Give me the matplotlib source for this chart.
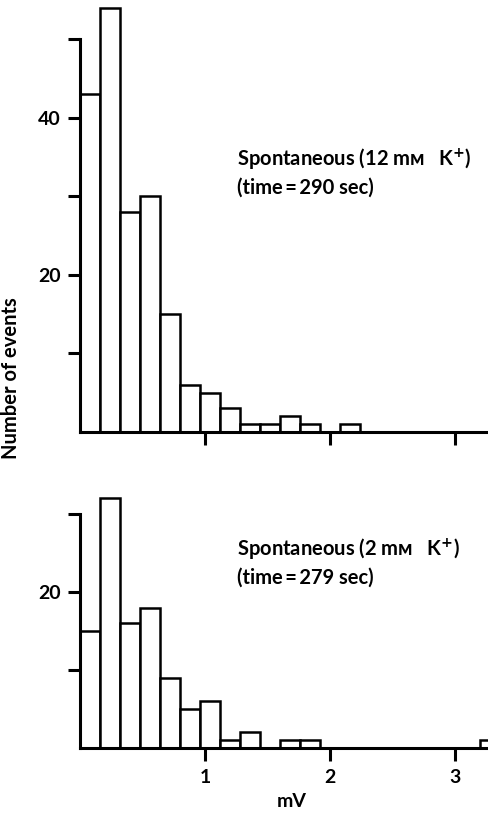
import matplotlib
matplotlib.use("Agg")
import matplotlib.pyplot as plt
import numpy as np

plt.rcParams['font.family'] = ['Lato', 'DejaVu Sans']
plt.rcParams['font.weight'] = 'bold'

# histogram counts per 0.16 mV bin
bin_width = 0.16
counts_12mM = [43, 54, 28, 30, 15, 6, 5, 3, 1, 1, 2, 1, 0, 1]
counts_2mM = [15, 32, 16, 18, 9, 5, 6, 1, 2, 0, 1, 1, 0, 0, 0, 0, 0, 0, 0, 0, 1]

label_12mM = ["Spontaneous (12 m\u1d0d   K$^{+}$)", "(time\u2009=\u2009290 sec)"]
label_2mM = ["Spontaneous (2 m\u1d0d   K$^{+}$)", "(time\u2009=\u2009279 sec)"]

W, H = 489, 813
fig = plt.figure(figsize=(W / 100, H / 100), dpi=100)

def px(x, y):
    # pixel (from top-left) -> figure fraction
    return x / W, 1 - y / H

def draw_hist(ax, counts, ymax, yticks, ylabels, show_xlabels):
    counts = np.array(counts)
    left = np.arange(len(counts)) * bin_width
    keep = counts > 0
    ax.bar(left[keep], counts[keep], width=bin_width, align='edge',
           facecolor='white', edgecolor='black', linewidth=1.8, zorder=2)
    ax.set_xlim(0, 3.27)
    ax.set_ylim(0, ymax)
    for s in ['top', 'right']:
        ax.spines[s].set_visible(False)
    for s in ['left', 'bottom']:
        ax.spines[s].set_linewidth(2.2)
    ax.spines['left'].set_bounds(0, yticks[-1])
    ax.set_yticks(yticks)
    ax.set_yticklabels(ylabels)
    ax.set_xticks([1, 2, 3])
    if show_xlabels:
        ax.set_xticklabels(['1', '2', '3'])
    else:
        ax.set_xticklabels([])
    ax.tick_params(direction='out', length=9, width=2.2, labelsize=14, pad=5)
    ax.tick_params(axis='x', pad=6)

ax1 = fig.add_axes([80 / W, (H - 432) / H, 409 / W, 431.75 / H])
draw_hist(ax1, counts_12mM, 55, [10, 20, 30, 40, 50], ['', '20', '', '40', ''], False)

ax2 = fig.add_axes([80 / W, (H - 748) / H, 409 / W, 257.4 / H])
draw_hist(ax2, counts_2mM, 33, [10, 20, 30], ['', '20', ''], True)

fs = 14.5
fig.text(*px(237, 165), label_12mM[0], fontsize=fs, va='baseline')
fig.text(*px(237, 194), label_12mM[1], fontsize=fs, va='baseline')
fig.text(*px(237, 555), label_2mM[0], fontsize=fs, va='baseline')
fig.text(*px(237, 584), label_2mM[1], fontsize=fs, va='baseline')

fig.text(*px(11, 378), "Number of events", rotation=90, fontsize=14.5,
         ha='center', va='center')
fig.text(*px(292, 801), "mV", fontsize=14, ha='center', va='center')

fig.savefig("out.png", dpi=100)
